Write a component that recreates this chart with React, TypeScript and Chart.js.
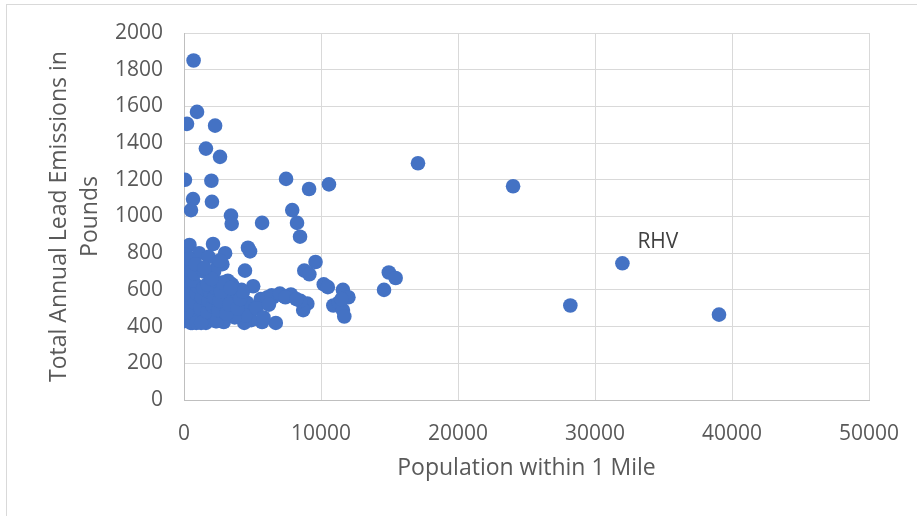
import React, { useEffect, useRef } from "react";
import { Chart, registerables } from "chart.js";

Chart.register(...registerables);

// Population within 1 mile (x) and total annual lead emissions in pounds (y)
const popValues: number[] = [
  700, 950, 220, 2270, 1600, 2630, 70, 2000, 7450, 9130, 10580, 17080, 24020,
  660, 2040, 510, 3430, 3480, 5700, 7900, 8250, 8470,
  400, 2120, 4670, 4820, 3000, 150, 1100, 9600, 8780, 9150, 4450, 50, 2500, 2800,
  14950, 15450, 14600, 10200, 10500,
  32000, 28200, 39050,
  11600, 12000, 10900, 11300, 11600, 11700, 11500,
  9000, 8700, 8500, 7800, 7300, 6500, 6000, 5600, 6700, 5700, 4900, 4400, 2900,
  5050, 4200, 3500, 3200, 3300, 3800, 4600, 5200, 4500, 3700, 2300, 1600, 1000, 500, 0,
  50, 30, 80, 120, 60, 200, 250, 350, 400, 300, 150, 450, 500, 350, 100, 20,
  600, 700, 800, 900, 1000, 650, 750, 1100, 1200, 1300, 1400, 900, 1250, 850, 1450,
  1700, 1800, 1900, 2100, 2200, 2300, 2400, 2500, 2600, 2700, 2800, 1700, 2200, 2000,
  3100, 3300, 3900, 4100, 4300, 3400,
  5300, 5800, 6100, 6400, 6200, 7000, 7400, 8200, 1800, 1500, 2600,
];

const leadValues: number[] = [
  1850, 1570, 1505, 1495, 1370, 1325, 1200, 1195, 1205, 1150, 1175, 1290, 1165,
  1095, 1080, 1035, 1005, 960, 965, 1035, 965, 890,
  845, 850, 830, 810, 800, 790, 800, 752, 705, 685, 705, 735, 740, 740,
  695, 665, 600, 630, 615,
  745, 515, 465,
  600, 560, 515, 530, 490, 455, 550,
  525, 490, 540, 575, 565, 560, 550, 550, 420, 425, 435, 420, 425,
  620, 600, 630, 650, 570, 540, 530, 500, 460, 450, 430, 420, 425, 420, 430,
  470, 520, 560, 600, 640, 580, 500, 450, 540, 610, 680, 620, 700, 770, 520, 575,
  420, 470, 530, 580, 620, 650, 690, 440, 500, 560, 610, 420, 420, 740, 700,
  480, 540, 590, 510, 560, 610, 430, 490, 540, 590, 640, 630, 700, 660,
  470, 520, 500, 550, 590, 610,
  500, 450, 560, 570, 520, 580, 560, 550, 780, 720, 760,
];

const pointNames: string[] = popValues.map((_, i) => (i === 41 ? "RHV" : ""));

const xTicks = { min: 0, max: 50000, step: 10000 };
const yTicks = { min: 0, max: 2000, step: 200 };

const xTitle = "Population within 1 Mile";
const yTitle = ["Total Annual Lead Emissions in", "Pounds"];

const labelPlugin = {
  id: "pointNames",
  afterDatasetsDraw(chart: any) {
    const meta = chart.getDatasetMeta(0);
    const ctx = chart.ctx;
    ctx.save();
    ctx.font = "21px 'Open Sans'";
    ctx.fillStyle = "#404040";
    ctx.textAlign = "left";
    ctx.textBaseline = "middle";
    pointNames.forEach((name, i) => {
      if (!name) return;
      const el = meta.data[i];
      ctx.fillText(name, el.x + 15, el.y - 21);
    });
    ctx.restore();
  },
};

export default function App() {
  const ref = useRef<HTMLCanvasElement>(null);

  useEffect(() => {
    document.body.style.margin = "0";
    const chart = new Chart(ref.current as HTMLCanvasElement, {
      type: "scatter",
      data: {
        datasets: [
          {
            data: popValues.map((x, i) => ({ x, y: leadValues[i] })),
            backgroundColor: "#4472C4",
            borderColor: "#4472C4",
            borderWidth: 0,
            pointRadius: 7.3,
          },
        ],
      },
      options: {
        animation: false,
        responsive: false,
        devicePixelRatio: 1,
        layout: { padding: { top: 33, right: 48, left: 0, bottom: 0 } },
        plugins: { legend: { display: false }, tooltip: { enabled: false } },
        scales: {
          x: {
            type: "linear",
            min: xTicks.min,
            max: xTicks.max,
            afterFit: (s: any) => {
              s.height = 116;
              s.paddingRight = 0;
              s.paddingLeft = 0;
            },
            ticks: {
              stepSize: xTicks.step,
              padding: 21,
              color: "#595959",
              font: { family: "'Open Sans'", size: 21 },
              callback: (v: any) => String(v),
            },
            grid: { color: "#d9d9d9", drawTicks: false },
            border: { color: "#bfbfbf" },
            title: {
              display: true,
              text: xTitle,
              color: "#595959",
              font: { family: "'Open Sans'", size: 23 },
              padding: { top: 0, bottom: 34 },
            },
          },
          y: {
            type: "linear",
            min: yTicks.min,
            max: yTicks.max,
            afterFit: (s: any) => {
              s.width = 184;
              s.paddingTop = 0;
              s.paddingBottom = 0;
            },
            ticks: {
              stepSize: yTicks.step,
              padding: 21,
              color: "#595959",
              font: { family: "'Open Sans'", size: 21 },
              callback: (v: any) => String(v),
            },
            grid: { color: "#d9d9d9", drawTicks: false },
            border: { color: "#bfbfbf" },
            title: {
              display: true,
              text: yTitle,
              color: "#595959",
              font: { family: "'Open Sans'", size: 23, lineHeight: 1.35 },
              padding: { top: 44, bottom: 0 },
            },
          },
        },
      },
      plugins: [labelPlugin],
    });
    return () => chart.destroy();
  }, []);

  return (
    <div style={{ position: "fixed", left: 0, top: 0, width: 917, height: 516, background: "#fff" }}>
      <div
        style={{
          position: "absolute",
          left: 6,
          top: 4,
          width: 911,
          height: 512,
          borderLeft: "1px solid #d9d9d9",
          borderTop: "1px solid #d9d9d9",
          boxSizing: "border-box",
        }}
      />
      <canvas ref={ref} width={917} height={516} style={{ position: "absolute", left: 0, top: 0 }} />
    </div>
  );
}
